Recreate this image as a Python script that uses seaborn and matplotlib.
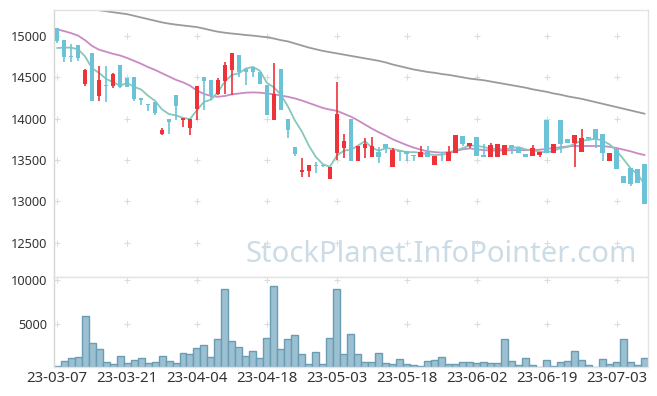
import matplotlib
matplotlib.use("Agg")
import matplotlib.pyplot as plt
import numpy as np
import pandas as pd
import seaborn as sns

# daily candles, 2023-03-07 .. 2023-07-07 (85 trading days)
opens = [15100, 14950, 14760, 14890, 14420, 14800, 14270, 14410, 14390, 14650,
         14490, 14500, 14250, 14180, 14200, 13810, 14000, 14290, 13990, 13890,
         14120, 14500, 14470, 14300, 14460, 14590, 14770, 14600, 14620, 14560,
         14410, 13990, 14600, 14000, 13660, 13360, 13370, 13440, 13435, 13270,
         13590, 13650, 14000, 13490, 13650, 13540, 13600, 13690, 13410, 13605,
         13605, 13550, 13540, 13600, 13443, 13600, 13490, 13590, 13790, 13670,
         13780, 13560, 13540, 13540, 13560, 13680, 13650, 13570, 13550, 13560,
         13980, 13590, 13990, 13760, 13710, 13600, 13775, 13880, 13820, 13490,
         13630, 13305, 13400, 13390, 13450]
highs = [15100, 14950, 14900, 14890, 14600, 14800, 14640, 14640, 14550, 14650,
         14490, 14500, 14250, 14180, 14200, 13890, 14000, 14290, 14010, 14000,
         14400, 14500, 14470, 14490, 14690, 14790, 14770, 14600, 14620, 14560,
         14410, 14670, 14600, 14000, 13660, 13520, 13440, 13480, 13440, 13420,
         14440, 13820, 14000, 13670, 13770, 13780, 13660, 13690, 13650, 13605,
         13605, 13550, 13670, 13670, 13548, 13600, 13670, 13800, 13790, 13710,
         13780, 13700, 13710, 13690, 13680, 13680, 13650, 13570, 13680, 13600,
         13980, 13700, 13990, 13760, 13800, 13880, 13775, 13880, 13820, 13580,
         13630, 13305, 13400, 13390, 13450]
lows = [14920, 14690, 14690, 14700, 14400, 14220, 14220, 14200, 14370, 14370,
        14380, 14210, 14170, 14090, 14050, 13800, 13810, 13990, 13900, 13800,
        13990, 14100, 14230, 14290, 14300, 14290, 14510, 14410, 14510, 14420,
        14050, 13990, 14110, 13770, 13550, 13300, 13300, 13340, 13420, 13270,
        13500, 13530, 13490, 13490, 13530, 13540, 13470, 13590, 13410, 13490,
        13490, 13490, 13540, 13540, 13443, 13490, 13490, 13590, 13670, 13650,
        13550, 13540, 13540, 13540, 13560, 13570, 13590, 13540, 13550, 13540,
        13590, 13590, 13590, 13710, 13420, 13600, 13750, 13640, 13490, 13490,
        13390, 13225, 13190, 13225, 12970]
closes = [14940, 14750, 14750, 14740, 14590, 14220, 14470, 14390, 14540, 14380,
          14380, 14240, 14230, 14160, 14070, 13860, 13960, 14150, 14010, 14000,
          14400, 14460, 14280, 14470, 14650, 14790, 14560, 14570, 14560, 14420,
          14050, 14300, 14110, 13860, 13570, 13380, 13440, 13430, 13425, 13420,
          14060, 13730, 13490, 13670, 13690, 13670, 13540, 13650, 13620, 13595,
          13570, 13545, 13600, 13540, 13548, 13590, 13600, 13800, 13690, 13710,
          13550, 13540, 13680, 13690, 13680, 13640, 13590, 13540, 13640, 13600,
          13590, 13700, 13690, 13710, 13800, 13770, 13750, 13760, 13580, 13580,
          13390, 13225, 13210, 13225, 12970]
volumes = [100, 690, 1000, 1110, 5865, 2720, 2030, 540, 310, 1230,
           420, 770, 1000, 420, 540, 1230, 690, 420, 1570, 1460,
           2150, 2490, 1110, 3180, 8930, 2950, 2260, 1230, 1800, 1000,
           3300, 9280, 2030, 3180, 3640, 1460, 310, 1690, 310, 3300,
           8930, 1460, 3760, 1460, 540, 540, 1570, 420, 310, 880,
           310, 190, 80, 690, 770, 1110, 310, 310, 540, 540,
           420, 540, 420, 420, 3180, 690, 190, 1000, 190, 0,
           770, 80, 540, 690, 1800, 770, 190, 0, 880, 310,
           540, 3180, 540, 190, 1000]
# first four 5-day averages need earlier closes
ma5_lead = [14855, 14860, 14860, 14840]
ma20 = [15080, 15060, 15035, 15005, 14950, 14880, 14835, 14810, 14785, 14765,
        14735, 14700, 14665, 14625, 14590, 14550, 14510, 14470, 14440, 14400,
        14340, 14300, 14275, 14265, 14275, 14295, 14305, 14315, 14318, 14315,
        14305, 14295, 14280, 14265, 14245, 14220, 14190, 14160, 14130, 14110,
        14095, 14060, 14025, 13980, 13930, 13880, 13835, 13795, 13750, 13715,
        13680, 13650, 13625, 13605, 13595, 13590, 13595, 13610, 13630, 13640,
        13630, 13620, 13615, 13615, 13615, 13620, 13620, 13620, 13620, 13625,
        13635, 13645, 13655, 13665, 13670, 13670, 13670, 13670, 13668, 13660,
        13645, 13625, 13605, 13580, 13560]
ma60 = [15385, 15375, 15365, 15355, 15340, 15325, 15312, 15300, 15288, 15276,
        15265, 15245, 15225, 15205, 15185, 15165, 15150, 15138, 15128, 15118,
        15108, 15090, 15070, 15052, 15040, 15030, 15022, 15012, 15005, 14995,
        14985, 14970, 14950, 14935, 14910, 14885, 14860, 14840, 14820, 14805,
        14790, 14775, 14760, 14745, 14730, 14715, 14700, 14680, 14655, 14635,
        14615, 14595, 14580, 14565, 14555, 14540, 14530, 14515, 14500, 14485,
        14475, 14465, 14450, 14435, 14420, 14405, 14390, 14375, 14355, 14340,
        14325, 14305, 14290, 14270, 14255, 14240, 14220, 14200, 14180, 14160,
        14140, 14120, 14100, 14080, 14060]
date_labels = ["23-03-07", "23-03-21", "23-04-04", "23-04-18", "23-05-03",
               "23-05-18", "23-06-02", "23-06-19", "23-07-03"]
price_ticks = [12500, 13000, 13500, 14000, 14500, 15000]
volume_ticks = [5000, 10000]

UP = "#ee3239"
DOWN = "#6cc3d7"
FRAME = "#e3e3e3"

df = pd.DataFrame({"open": opens, "high": highs, "low": lows,
                   "close": closes, "volume": volumes})
df["pos"] = np.arange(len(df))
ma5 = df["close"].rolling(5).mean()
ma5.iloc[:4] = ma5_lead
df["ma5"] = ma5
df["ma20"] = ma20
df["ma60"] = ma60
up = df["close"] >= df["open"]
colors = np.where(up, UP, DOWN)

sns.set_theme(style="white")
plt.rcParams["font.family"] = ["Noto Sans", "DejaVu Sans"]

fig = plt.figure(figsize=(6.57, 3.96), dpi=100)
ax = fig.add_axes([54 / 657, 119 / 396, 594 / 657, 267 / 396])
axv = fig.add_axes([54 / 657, 29 / 396, 594 / 657, 90 / 396])

# moving averages
sns.lineplot(data=df, x="pos", y="ma60", ax=ax, color="#9b9b9b", lw=1.3)
sns.lineplot(data=df, x="pos", y="ma20", ax=ax, color="#c98ac3", lw=1.3)
sns.lineplot(data=df, x="pos", y="ma5", ax=ax, color="#86c8bb", lw=1.3)

# candles
ax.vlines(df["pos"], df["low"], df["high"], colors=colors, lw=1.2, zorder=3)
body_lo = np.minimum(df["open"], df["close"])
body_h = np.maximum(np.abs(df["close"] - df["open"]), 12)
ax.bar(df["pos"], body_h, bottom=body_lo, width=0.68, color=colors,
       linewidth=0, zorder=4)

# volume
sns.barplot(data=df, x="pos", y="volume", ax=axv, native_scale=True,
            color="#9bc0d1", edgecolor="#6a9cb4", linewidth=1.0, width=1.0,
            saturation=1, errorbar=None)

tick_pos = list(range(0, len(df), 10))
for a in (ax, axv):
    a.set_xlim(-0.44, 84.47)
    a.set_xlabel("")
    a.set_ylabel("")
    for s in a.spines.values():
        s.set_color(FRAME)
        s.set_linewidth(1.0)
    a.spines["left"].set_color("#d6d6d6")
    a.tick_params(length=0, labelsize=9.2, labelcolor="#333333", pad=5)
    a.set_xticks(tick_pos)

ax.set_ylim(12085, 15315)
ax.set_yticks(price_ticks)
ax.set_yticklabels([str(t) for t in price_ticks])
ax.set_xticklabels([])
axv.set_ylim(0, 10350)
axv.set_yticks(volume_ticks)
axv.set_yticklabels([str(t) for t in volume_ticks])
axv.set_xticklabels(date_labels)
axv.tick_params(axis="x", labelsize=10.8, pad=3)

# little "+" grid marks
gx, gy = np.meshgrid(tick_pos, price_ticks)
ax.scatter(gx.ravel(), gy.ravel(), marker="+", s=14, color="#dcdcdc",
           linewidths=0.8, zorder=1)
gx, gy = np.meshgrid(tick_pos, volume_ticks)
axv.scatter(gx.ravel(), gy.ravel(), marker="+", s=14, color="#dcdcdc",
            linewidths=0.8, zorder=0, clip_on=False)

ax.text(0.981, 0.085, "StockPlanet.InfoPointer.com", transform=ax.transAxes,
        ha="right", va="center", fontsize=21, color="#ccdce6", zorder=0)

fig.savefig("out.png", dpi=100)
